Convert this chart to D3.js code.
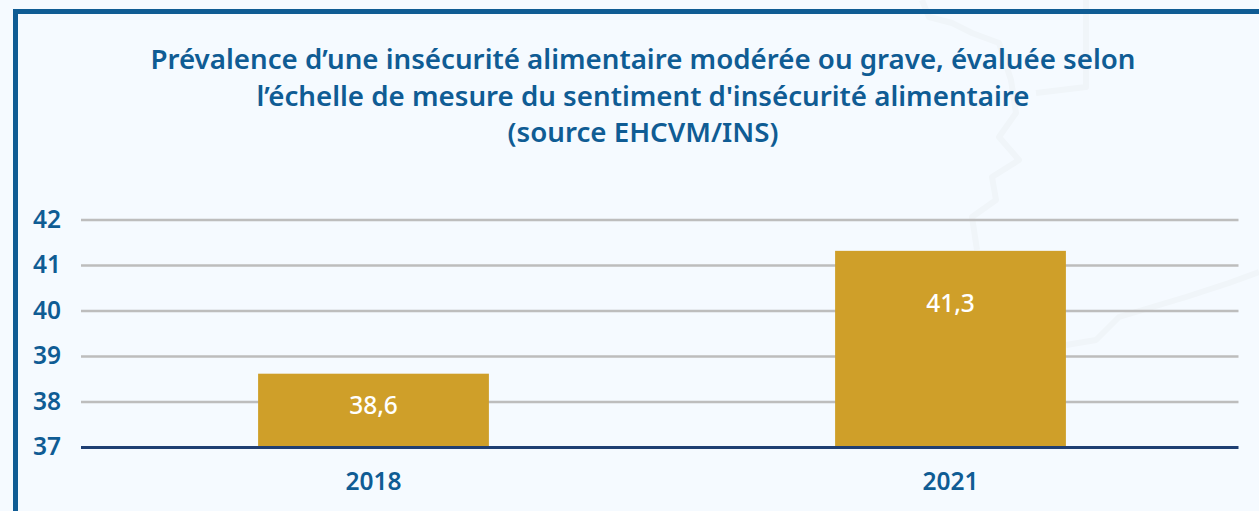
<!DOCTYPE html>
<html><head><meta charset="utf-8">
<script src="https://cdn.jsdelivr.net/npm/d3@7"></script>
<style>
html,body{margin:0;padding:0;background:#f5faff;overflow:hidden}
text{font-family:"Noto Sans",sans-serif}
</style></head><body>
<svg id="c" width="1259" height="511"></svg>
<script>
const categories = ["2018","2021"];
const values = [38.6,41.3];
const valueLabels = ["38,6","41,3"];
const yTicks = [37,38,39,40,41,42];
const titleLines = ["Prévalence d’une insécurité alimentaire modérée ou grave, évaluée selon","l’échelle de mesure du sentiment d'insécurité alimentaire","(source EHCVM/INS)"];
const blue="#0f5c94";
const font='"Noto Sans",sans-serif';
const svg=d3.select("#c");
svg.append("rect").attr("width",1259).attr("height",511).attr("fill","#f5faff");
// faint decorative map outline
const deco=[
 [[922,0],[929,17],[952,23],[972,33],[999,43],[1011,80],[1016,113],[999,137],[1019,160],[992,177],[996,200],[972,217],[977,250]],
 [[1086,0],[1086,87],[1036,93]],
 [[1066,345],[1096,340],[1119,317],[1186,297],[1229,283],[1259,272]]
];
svg.selectAll("path.deco").data(deco).join("path").attr("class","deco")
 .attr("d",d3.line()).attr("fill","none").attr("stroke","#f0f5f9").attr("stroke-width",6).attr("stroke-linejoin","round");
// frame
svg.append("path").attr("d","M15.5,515V11.5H1265").attr("fill","none").attr("stroke",blue).attr("stroke-width",5);
const y=d3.scaleLinear().domain([37,42]).range([447.5,220]);
const x=d3.scaleBand().domain(categories).range([85,1239]).paddingInner(0.6).paddingOuter(0.3);
// y axis
const gy=svg.append("g").attr("transform","translate(81,-0.5)")
 .call(d3.axisLeft(y).tickValues(yTicks).tickFormat(d3.format("d")).tickSize(-1157.5).tickPadding(20));
gy.select(".domain").remove();
gy.selectAll("line").attr("stroke",d=>d===37?"#1f3f73":"#bdbdbd").attr("stroke-width",d=>d===37?3:2.6);
gy.selectAll("text").attr("fill",blue).attr("font-size",24.5).attr("font-weight",600).style("font-family",font);
// bars
svg.selectAll("rect.bar").data(values).join("rect").attr("class","bar")
 .attr("x",(d,i)=>x(categories[i])).attr("width",x.bandwidth())
 .attr("y",d=>y(d)-1).attr("height",d=>y(37)-y(d)-0.5).attr("fill","#cf9f29");
// label offset below each bar top
const labelDrop=[30,51];
svg.selectAll("text.val").data(values).join("text").attr("class","val")
 .attr("x",(d,i)=>x(categories[i])+x.bandwidth()/2)
 .attr("y",(d,i)=>y(d)+labelDrop[i])
 .attr("text-anchor","middle").attr("dominant-baseline","central")
 .attr("fill","#fff").attr("font-size",24.5).attr("font-weight",500)
 .text((d,i)=>valueLabels[i]);
// x axis
const gx=svg.append("g").attr("transform","translate(0,447.5)")
 .call(d3.axisBottom(x).tickSize(0).tickPadding(25));
gx.select(".domain").remove();
gx.selectAll("text").attr("fill",blue).attr("font-size",24.5).attr("font-weight",600).style("font-family",font);
// title
svg.selectAll("text.title").data(titleLines).join("text").attr("class","title")
 .attr("x",643).attr("y",(d,i)=>69+i*36.5).attr("text-anchor","middle")
 .attr("fill",blue).attr("font-size",27.7).attr("font-weight",600).text(d=>d);
</script>
</body></html>
